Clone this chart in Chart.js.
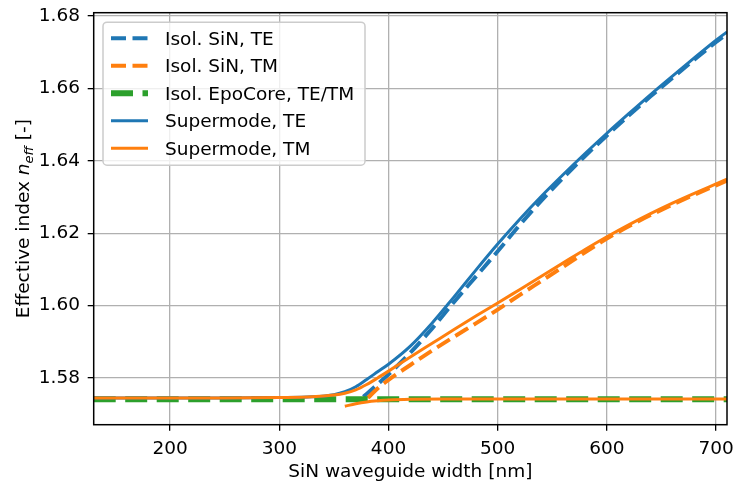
<!DOCTYPE html>
<html>
<head>
<meta charset="utf-8">
<script src="https://cdn.jsdelivr.net/npm/chart.js@4.4.1/dist/chart.umd.min.js"></script>
<style>
  html, body { margin: 0; padding: 0; background: #fff; }
  canvas { display: block; }
</style>
</head>
<body>
<canvas id="neffChart" width="733" height="486"></canvas>
<script>
// waveguide widths [nm] and effective indices
const xTicks = [200, 300, 400, 500, 600, 700];
const yTicks = [1.58, 1.60, 1.62, 1.64, 1.66, 1.68];

const isoTEWidths = [377, 380, 390, 400, 420, 440, 460, 480, 500, 520, 540, 560, 580, 600, 620, 640, 660, 680, 700, 710];
const isoTE = [1.5748, 1.5756, 1.5783, 1.5810, 1.5870, 1.5937, 1.6010, 1.6080, 1.6150, 1.6222, 1.6290, 1.6353, 1.6413, 1.6470, 1.6525, 1.6578, 1.6629, 1.6679, 1.6728, 1.6751];

const isoTMWidths = [381, 390, 400, 420, 440, 460, 480, 500, 520, 540, 560, 580, 600, 620, 640, 660, 680, 700, 710];
const isoTM = [1.5745, 1.5771, 1.5795, 1.5836, 1.5876, 1.5914, 1.5951, 1.5989, 1.6029, 1.6068, 1.6107, 1.6147, 1.6185, 1.6219, 1.6250, 1.6279, 1.6306, 1.6332, 1.6345];

const epoWidths = [130, 710];
const epoCore = [1.5741, 1.5741];

const superWidths = [130, 200, 250, 300, 330, 350, 360, 370, 380, 390, 400, 420, 440, 460, 480, 500, 520, 540, 560, 580, 600, 620, 640, 660, 680, 700, 710];
const superTE = [1.5745, 1.5745, 1.5745, 1.5746, 1.5748, 1.5754, 1.5762, 1.5776, 1.5796, 1.5817, 1.5838, 1.5888, 1.5952, 1.6024, 1.6098, 1.6170, 1.6238, 1.6302, 1.6362, 1.6420, 1.6476, 1.6530, 1.6583, 1.6634, 1.6684, 1.6733, 1.6756];
const superTM = [1.5745, 1.5745, 1.5745, 1.5746, 1.5748, 1.5753, 1.5758, 1.5767, 1.5782, 1.5800, 1.5819, 1.5858, 1.5896, 1.5934, 1.5971, 1.6007, 1.6044, 1.6081, 1.6118, 1.6155, 1.6190, 1.6223, 1.6254, 1.6283, 1.6310, 1.6336, 1.6349];

// lower supermode branch (TM), no legend entry
const lowerWidths = [360, 370, 380, 390, 400, 420, 450, 500, 600, 710];
const lowerTM = [1.5722, 1.5729, 1.5734, 1.5737, 1.5739, 1.5741, 1.5742, 1.5742, 1.5742, 1.5742];

const BLUE = '#1f77b4';
const ORANGE = '#ff7f0e';
const GREEN = '#2ca02c';
const FONT = 'DejaVu Sans';
const FS = 18.5;

const toPoints = (xs, ys) => xs.map((x, i) => ({ x: x, y: ys[i] }));

// black frame round the axes (matplotlib spines)
const framePlugin = {
  id: 'frame',
  afterDatasetsDraw(chart) {
    const { ctx, chartArea: a } = chart;
    ctx.save();
    ctx.strokeStyle = '#000';
    ctx.lineWidth = 1.5;
    ctx.strokeRect(a.left, a.top, a.right - a.left, a.bottom - a.top);
    ctx.restore();
  }
};

// legend box inside the axes, upper left
const legendPlugin = {
  id: 'boxLegend',
  afterDraw(chart) {
    const { ctx, chartArea: a } = chart;
    const x0 = a.left + 9.3, y0 = a.top + 9.5;
    const w = 262, h = 143, r = 4;
    ctx.save();
    ctx.beginPath();
    ctx.moveTo(x0 + r, y0);
    ctx.arcTo(x0 + w, y0, x0 + w, y0 + h, r);
    ctx.arcTo(x0 + w, y0 + h, x0, y0 + h, r);
    ctx.arcTo(x0, y0 + h, x0, y0, r);
    ctx.arcTo(x0, y0, x0 + w, y0, r);
    ctx.closePath();
    ctx.fillStyle = 'rgba(255,255,255,0.8)';
    ctx.fill();
    ctx.strokeStyle = '#cccccc';
    ctx.lineWidth = 1.5;
    ctx.stroke();

    chart.data.datasets.filter(ds => ds.label).forEach((ds, i) => {
      const cy = y0 + 16 + i * 27.5;
      ctx.beginPath();
      ctx.setLineDash(ds.borderDash || []);
      ctx.lineWidth = ds.borderWidth;
      ctx.strokeStyle = ds.borderColor;
      ctx.moveTo(x0 + 8, cy);
      ctx.lineTo(x0 + 45, cy);
      ctx.stroke();
      ctx.setLineDash([]);
      ctx.fillStyle = '#000';
      ctx.font = FS + 'px "' + FONT + '"';
      ctx.textBaseline = 'alphabetic';
      ctx.fillText(ds.label, x0 + 62, cy + 6.7);
    });
    ctx.restore();
  }
};

// y label with italic n and subscript eff
const yTitlePlugin = {
  id: 'yTitle',
  afterDraw(chart) {
    const { ctx, chartArea: a } = chart;
    const parts = [
      { t: 'Effective index ', f: FS + 'px "' + FONT + '"', dy: 0 },
      { t: 'n', f: 'italic ' + FS + 'px "' + FONT + '"', dy: 0 },
      { t: 'eff', f: 'italic ' + (FS * 0.7) + 'px "' + FONT + '"', dy: 4 },
      { t: ' [-]', f: FS + 'px "' + FONT + '"', dy: 0 }
    ];
    ctx.save();
    let total = 0;
    parts.forEach(p => { ctx.font = p.f; p.w = ctx.measureText(p.t).width; total += p.w; });
    ctx.translate(28.5, (a.top + a.bottom) / 2);
    ctx.rotate(-Math.PI / 2);
    ctx.fillStyle = '#000';
    ctx.textBaseline = 'alphabetic';
    let x = -total / 2;
    parts.forEach(p => { ctx.font = p.f; ctx.fillText(p.t, x, p.dy); x += p.w; });
    ctx.restore();
  }
};

const ctx = document.getElementById('neffChart').getContext('2d');
const neffChart = new Chart(ctx, {
  type: 'line',
  data: {
    datasets: [{
      label: 'Isol. SiN, TE',
      data: toPoints(isoTEWidths, isoTE),
      borderColor: BLUE,
      borderWidth: 4,
      borderDash: [15, 6.5],
      order: 6
    }, {
      label: 'Isol. SiN, TM',
      data: toPoints(isoTMWidths, isoTM),
      borderColor: ORANGE,
      borderWidth: 4,
      borderDash: [15, 6.5],
      order: 5
    }, {
      label: 'Isol. EpoCore, TE/TM',
      data: toPoints(epoWidths, epoCore),
      borderColor: GREEN,
      borderWidth: 6,
      borderDash: [22, 9.5],
      order: 4
    }, {
      label: 'Supermode, TE',
      data: toPoints(superWidths, superTE),
      borderColor: BLUE,
      borderWidth: 3,
      order: 3
    }, {
      label: 'Supermode, TM',
      data: toPoints(superWidths, superTM),
      borderColor: ORANGE,
      borderWidth: 3,
      order: 2
    }, {
      label: '',
      data: toPoints(lowerWidths, lowerTM),
      borderColor: ORANGE,
      borderWidth: 3,
      order: 1
    }]
  },
  options: {
    responsive: false,
    animation: false,
    devicePixelRatio: 1,
    layout: { padding: { top: 12.7, right: 6, left: 0, bottom: 0 } },
    elements: {
      point: { radius: 0 },
      line: { cubicInterpolationMode: 'monotone', fill: false }
    },
    plugins: {
      legend: { display: false },
      tooltip: { enabled: false }
    },
    scales: {
      x: {
        type: 'linear',
        min: 130,
        max: 710,
        afterBuildTicks: scale => { scale.ticks = xTicks.map(v => ({ value: v })); },
        afterFit: scale => { scale.height = 61.3; scale.paddingLeft = 0; scale.paddingRight = 0; },
        ticks: {
          color: '#000',
          font: { family: FONT, size: FS },
          padding: 7,
          maxRotation: 0,
          callback: v => String(v)
        },
        grid: { color: '#b0b0b0', lineWidth: 1.3, tickColor: '#000', tickLength: 6 },
        border: { display: false },
        title: {
          display: true,
          text: 'SiN waveguide width [nm]',
          color: '#000',
          font: { family: FONT, size: FS },
          padding: { top: 0, bottom: 3 }
        }
      },
      y: {
        type: 'linear',
        min: 1.5671,
        max: 1.6809,
        afterBuildTicks: scale => { scale.ticks = yTicks.map(v => ({ value: v })); },
        afterFit: scale => { scale.width = 93.7; scale.paddingTop = 0; scale.paddingBottom = 0; },
        ticks: {
          color: '#000',
          font: { family: FONT, size: FS },
          padding: 7.7,
          callback: v => v.toFixed(2)
        },
        grid: { color: '#b0b0b0', lineWidth: 1.3, tickColor: '#000', tickLength: 6 },
        border: { display: false }
      }
    }
  },
  plugins: [framePlugin, legendPlugin, yTitlePlugin]
});
</script>
</body>
</html>
